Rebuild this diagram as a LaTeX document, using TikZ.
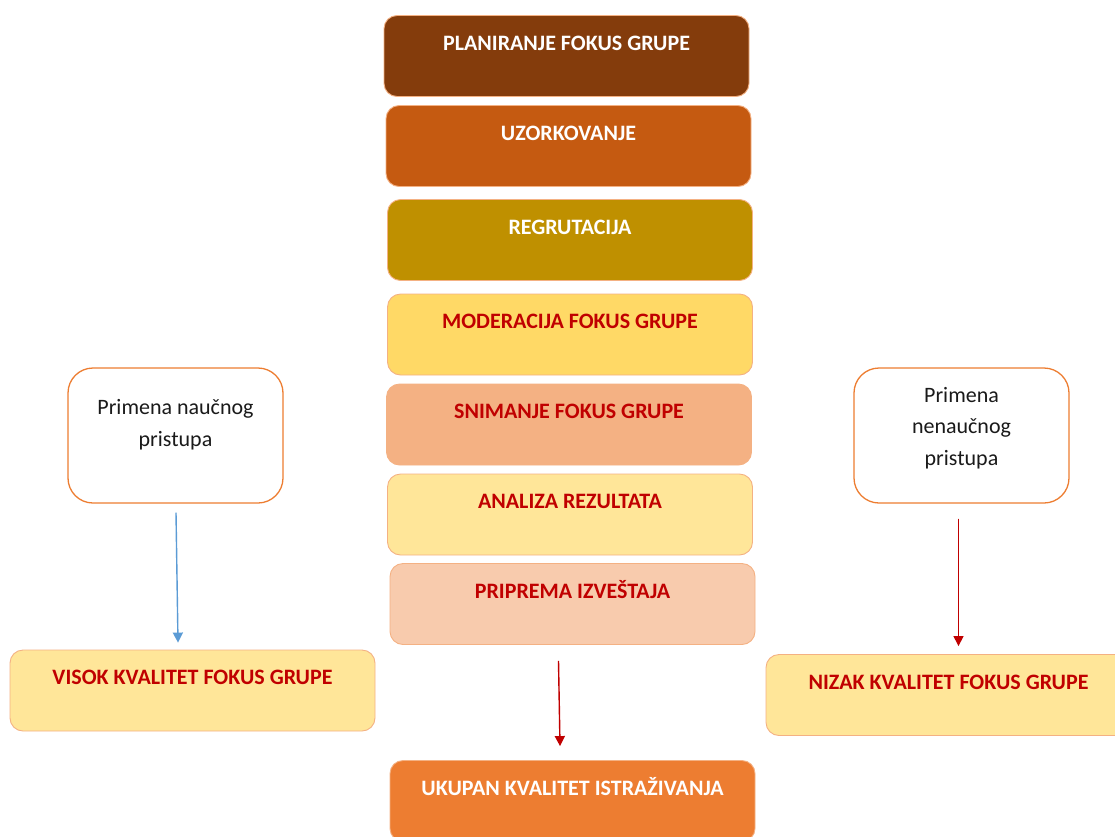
\documentclass[tikz,border=0pt]{standalone}
\usepackage{fontspec}
\setmainfont{Carlito}
\usetikzlibrary{arrows.meta,calc}

\definecolor{brownA}{HTML}{843C0C}
\definecolor{rustB}{HTML}{C55A11}
\definecolor{goldC}{HTML}{BF9000}
\definecolor{yellowD}{HTML}{FFD966}
\definecolor{peachE}{HTML}{F4B183}
\definecolor{paleF}{HTML}{FFE699}
\definecolor{blushG}{HTML}{F8CBAD}
\definecolor{orangeH}{HTML}{ED7D31}
\definecolor{edgeline}{HTML}{F4B183}
\definecolor{labelred}{HTML}{C00000}
\definecolor{arrowblue}{HTML}{5B9BD5}
\definecolor{arrowred}{HTML}{C00000}
\definecolor{darktext}{HTML}{1A1A1A}

\begin{document}
\begin{tikzpicture}[x=1pt,y=-1pt,
  stage/.style={draw=edgeline, line width=0.9pt, rounded corners=13pt,
    minimum width=365pt, minimum height=81pt, inner sep=0pt},
  approach/.style={draw=orangeH, fill=white, line width=1.3pt, rounded corners=25pt,
    minimum width=215pt, minimum height=135pt, inner sep=0pt},
  boldlabel/.style={font=\fontsize{22}{26}\selectfont\bfseries, inner sep=0pt, anchor=base},
  plainlabel/.style={font=\fontsize{22}{31.5}\selectfont, text=darktext, align=center,
    inner sep=0pt, anchor=base},
  flow/.style={line width=1.4pt, -{Triangle[width=10pt,length=10pt]}}
]
\useasboundingbox (0,0) rectangle (1115,836);
\clip (0,0) rectangle (1115,836);

% central column of stages
\node[stage, fill=brownA]  (plan)  at (566.5,56)  {};
\node[stage, fill=rustB]   (uzor)  at (568.5,146) {};
\node[stage, fill=goldC]   (regr)  at (570,240)   {};
\node[stage, fill=yellowD] (moder) at (570,334.5) {};
\node[stage, fill=peachE]  (snim)  at (569,424.5) {};
\node[stage, fill=paleF]   (anal)  at (570,514.5) {};
\node[stage, fill=blushG]  (prip)  at (572.5,604) {};
\node[stage, fill=orangeH] (ukup)  at (572.5,801) {};

\node[boldlabel, text=white]    (planT)  at ($(plan.north)+(0,35)$)  {PLANIRANJE FOKUS GRUPE};
\node[boldlabel, text=white]    (uzorT)  at ($(uzor.north)+(0,35)$)  {UZORKOVANJE};
\node[boldlabel, text=white]    (regrT)  at ($(regr.north)+(0,35)$)  {REGRUTACIJA};
\node[boldlabel, text=labelred] (moderT) at ($(moder.north)+(0,35)$) {MODERACIJA FOKUS GRUPE};
\node[boldlabel, text=labelred] (snimT)  at ($(snim.north)+(0,35)$)  {SNIMANJE FOKUS GRUPE};
\node[boldlabel, text=labelred] (analT)  at ($(anal.north)+(0,35)$)  {ANALIZA REZULTATA};
\node[boldlabel, text=labelred] (pripT)  at ($(prip.north)+(0,35)$)  {PRIPREMA IZVEŠTAJA};
\node[boldlabel, text=white]    (ukupT)  at ($(ukup.north)+(0,35)$)  {UKUPAN KVALITET ISTRAŽIVANJA};

% approaches on both sides (label base = baseline of the last line)
\node[approach] (lw) at (175.5,435.5) {};
\node[approach] (rw) at (961.5,435.5) {};
\node[plainlabel] (lwT) at ($(lw.north)+(0,79)$) {Primena naučnog\\pristupa};
\node[plainlabel] (rwT) at ($(rw.north)+(0,98)$) {Primena\\nenaučnog\\pristupa};

% outcome boxes
\node[stage, fill=paleF] (visok) at (192.5,690.5) {};
\node[stage, fill=paleF] (nizak) at (948.5,695)   {};
\node[boldlabel, text=labelred] (visokT) at ($(visok.north)+(0,35)$) {VISOK KVALITET FOKUS GRUPE};
\node[boldlabel, text=labelred] (nizakT) at ($(nizak.north)+(0,35)$) {NIZAK KVALITET FOKUS GRUPE};

% connectors
\draw[flow, draw=arrowblue, fill=arrowblue] ($(lw.south)+(0.5,9)$) -- ($(visok.north)+(-14.5,-7)$);
\draw[flow, draw=arrowred, fill=arrowred] ($(rw.south)+(-3,15)$) -- ($(nizak.north)+(10,-8)$);
\draw[flow, draw=arrowred, fill=arrowred] ($(prip.south)+(-14,16)$) -- ($(ukup.north)+(-12.5,-14)$);
\end{tikzpicture}
\end{document}
